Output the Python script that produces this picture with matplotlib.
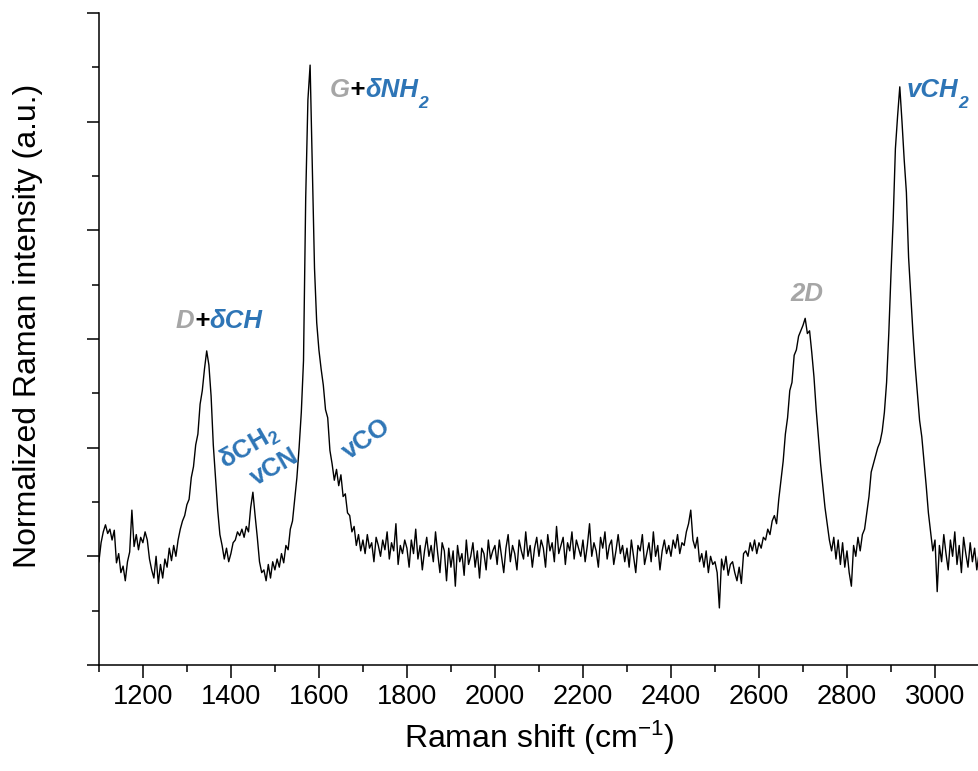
import numpy as np
import matplotlib
matplotlib.use("Agg")
import matplotlib.pyplot as plt
from matplotlib.ticker import MultipleLocator

plt.rcParams['font.family'] = ['Liberation Sans', 'DejaVu Sans']
plt.rcParams['mathtext.fontset'] = 'custom'
plt.rcParams['mathtext.rm'] = 'Liberation Sans'
plt.rcParams['mathtext.it'] = 'Liberation Sans:italic'
plt.rcParams['mathtext.bf'] = 'Liberation Sans:bold'

# Raman shift grid, one reading every 5 cm-1 (1100 ... 3100)
shift_start = 1100
shift_step = 5

# normalized intensity, one row per 100 cm-1
int_1100 = [-0.01, 0.025, 0.045, 0.058, 0.042, 0.05, 0.03, 0.048, -0.012, 0.005,
            -0.03, -0.018, -0.045, -0.01, 0.008, 0.085, 0.018, 0.04, 0.012, 0.035]
int_1200 = [0.025, 0.045, 0.03, -0.005, -0.025, -0.04, 0.0, -0.05, -0.015, -0.04,
            -0.005, -0.02, 0.015, -0.008, 0.02, 0.0, 0.03, 0.05, 0.065, 0.075]
int_1300 = [0.095, 0.105, 0.145, 0.165, 0.205, 0.225, 0.28, 0.305, 0.345, 0.378,
            0.352, 0.295, 0.205, 0.145, 0.085, 0.04, 0.02, -0.005, 0.015, -0.01]
int_1400 = [0.005, 0.025, 0.03, 0.045, 0.038, 0.05, 0.035, 0.055, 0.045, 0.09,
            0.118, 0.075, 0.035, -0.01, -0.03, -0.025, -0.045, -0.015, -0.04, -0.01]
int_1500 = [-0.025, -0.005, -0.02, 0.005, -0.012, 0.02, 0.012, 0.05, 0.065, 0.105,
            0.145, 0.2, 0.265, 0.36, 0.66, 0.84, 0.904, 0.72, 0.53, 0.43]
int_1600 = [0.38, 0.345, 0.315, 0.27, 0.255, 0.195, 0.17, 0.14, 0.16, 0.13,
            0.15, 0.11, 0.115, 0.08, 0.075, 0.045, 0.055, 0.02, 0.04, 0.01]
int_1700 = [0.03, 0.005, 0.04, 0.015, 0.025, -0.01, 0.035, 0.02, 0.0, 0.03,
            0.012, 0.045, -0.005, 0.025, 0.01, 0.06, -0.015, 0.02, 0.005, 0.03]
int_1800 = [0.015, -0.02, 0.03, 0.005, 0.05, -0.005, 0.02, -0.025, 0.01, 0.035,
            0.0, 0.02, -0.01, 0.045, 0.005, -0.03, 0.025, 0.01, -0.045, 0.015]
int_1900 = [-0.02, 0.01, -0.055, 0.02, -0.01, 0.005, -0.035, 0.03, -0.015, 0.0,
            0.025, -0.02, 0.01, -0.04, 0.015, 0.005, -0.025, 0.03, -0.005, 0.01]
int_2000 = [0.02, -0.015, 0.03, 0.0, -0.03, 0.015, 0.04, -0.01, 0.02, 0.005,
            -0.025, 0.03, 0.01, -0.005, 0.045, 0.0, 0.02, -0.02, 0.015, 0.035]
int_2100 = [0.0, 0.03, 0.015, -0.02, 0.04, 0.01, 0.025, -0.01, 0.055, 0.005,
            0.02, 0.035, -0.015, 0.025, 0.01, 0.045, -0.005, 0.03, 0.015, 0.0]
int_2200 = [0.03, -0.01, 0.02, 0.06, 0.0, 0.025, 0.01, -0.02, 0.035, 0.015,
            0.045, -0.005, 0.02, 0.03, -0.015, 0.01, 0.04, 0.005, 0.02, -0.01]
int_2300 = [0.015, -0.02, 0.03, 0.0, -0.03, 0.02, 0.01, 0.04, -0.015, 0.005,
            0.025, -0.01, 0.045, 0.0, 0.02, -0.025, 0.01, 0.03, 0.005, 0.02]
int_2400 = [0.0, 0.03, 0.015, 0.04, 0.005, 0.025, 0.02, 0.045, 0.06, 0.085,
            0.03, 0.015, 0.035, -0.01, 0.005, -0.02, 0.01, -0.03, 0.0, -0.015]
int_2500 = [-0.01, -0.03, -0.095, -0.005, -0.025, 0.0, -0.035, -0.015, -0.01, -0.03,
            -0.045, -0.02, -0.05, 0.005, 0.01, 0.0, 0.025, 0.01, 0.03, 0.005]
int_2600 = [0.025, 0.015, 0.035, 0.03, 0.05, 0.04, 0.065, 0.075, 0.06, 0.105,
            0.14, 0.175, 0.225, 0.255, 0.305, 0.32, 0.37, 0.38, 0.405, 0.415]
int_2700 = [0.425, 0.438, 0.41, 0.415, 0.375, 0.33, 0.27, 0.22, 0.17, 0.13,
            0.09, 0.06, 0.03, 0.01, 0.035, -0.005, 0.03, -0.015, 0.025, -0.02]
int_2800 = [0.01, -0.03, -0.055, 0.02, 0.0, 0.035, 0.01, 0.04, 0.05, 0.08,
            0.11, 0.155, 0.17, 0.185, 0.2, 0.21, 0.23, 0.265, 0.32, 0.41]
int_2900 = [0.52, 0.62, 0.75, 0.81, 0.864, 0.8, 0.73, 0.67, 0.55, 0.48,
            0.41, 0.35, 0.3, 0.25, 0.22, 0.175, 0.13, 0.08, 0.045, 0.01]
int_3000 = [0.03, -0.065, 0.02, -0.01, 0.04, 0.005, -0.025, 0.03, 0.0, 0.045,
            -0.015, 0.02, -0.03, 0.035, 0.005, -0.02, 0.025, -0.01, 0.015, -0.025, 0.005]

intensity = (int_1100 + int_1200 + int_1300 + int_1400 + int_1500 + int_1600 +
             int_1700 + int_1800 + int_1900 + int_2000 + int_2100 + int_2200 +
             int_2300 + int_2400 + int_2500 + int_2600 + int_2700 + int_2800 +
             int_2900 + int_3000)
shift = shift_start + shift_step * np.arange(len(intensity))

BLUE = '#2E75B6'
GREY = '#A6A6A6'

fig = plt.figure(figsize=(9.79, 7.71), dpi=100)
ax = fig.add_axes([0.101, 0.1375, 0.899, 0.8457])

ax.plot(shift, intensity, color='black', lw=1.0)

ax.set_xlim(1100, 3100)
ax.set_ylim(-0.2, 1.0)
ax.xaxis.set_major_locator(MultipleLocator(200))
ax.xaxis.set_minor_locator(MultipleLocator(100))
ax.yaxis.set_major_locator(MultipleLocator(0.2))
ax.yaxis.set_minor_locator(MultipleLocator(0.1))
ax.tick_params(which='major', direction='out', length=9, width=1.1, labelsize=19.5, pad=5)
ax.tick_params(which='minor', direction='out', length=4.8, width=1.1)
ax.tick_params(axis='y', labelleft=False)
for s in ['top', 'right']:
    ax.spines[s].set_visible(False)
for s in ['left', 'bottom']:
    ax.spines[s].set_linewidth(1.1)

ax.set_xlabel('Raman shift (cm$^{-1}$)', fontsize=23, labelpad=6)
ax.set_ylabel('Normalized Raman intensity (a.u.)', fontsize=23)
ax.yaxis.set_label_coords(-0.064, 0.52)

# peak labels, coloured pieces chained one after another
def label(x, y, pieces, size=18.5):
    prev = None
    for txt, col, sub in pieces:
        kw = dict(color=col, fontsize=size * (0.68 if sub else 1.0),
                  fontweight='bold', fontstyle='italic')
        if prev is None:
            prev = ax.text(x, y, txt, ha='left', va='baseline', **kw)
        elif sub:
            prev = ax.annotate(txt, xy=(1, 0), xycoords=prev, xytext=(0, -4),
                               textcoords='offset points', va='baseline', **kw)
        else:
            prev = ax.annotate(txt, xy=(1, 0), xycoords=prev, va='bottom', **kw)

label(1275, 0.42, [('D', GREY, False), ('+', 'black', False), ('δCH', BLUE, False)])
label(1625, 0.845, [('G', GREY, False), ('+', 'black', False), ('δNH', BLUE, False), ('2', BLUE, True)])
label(2672, 0.47, [('2D', GREY, False)])
label(2935, 0.845, [('vCH', BLUE, False), ('2', BLUE, True)])

ax.text(1442, 0.2, r'δCH$_\mathbf{2}$', color=BLUE, fontsize=18.5, fontweight='bold',
        rotation=30, ha='center', va='center')
ax.text(1500, 0.165, 'vCN', color=BLUE, fontsize=18.5, fontweight='bold',
        rotation=30, ha='center', va='center')
ax.text(1708, 0.215, 'vCO', color=BLUE, fontsize=18.5, fontweight='bold',
        rotation=35, ha='center', va='center')

fig.savefig('out.png', dpi=100)
